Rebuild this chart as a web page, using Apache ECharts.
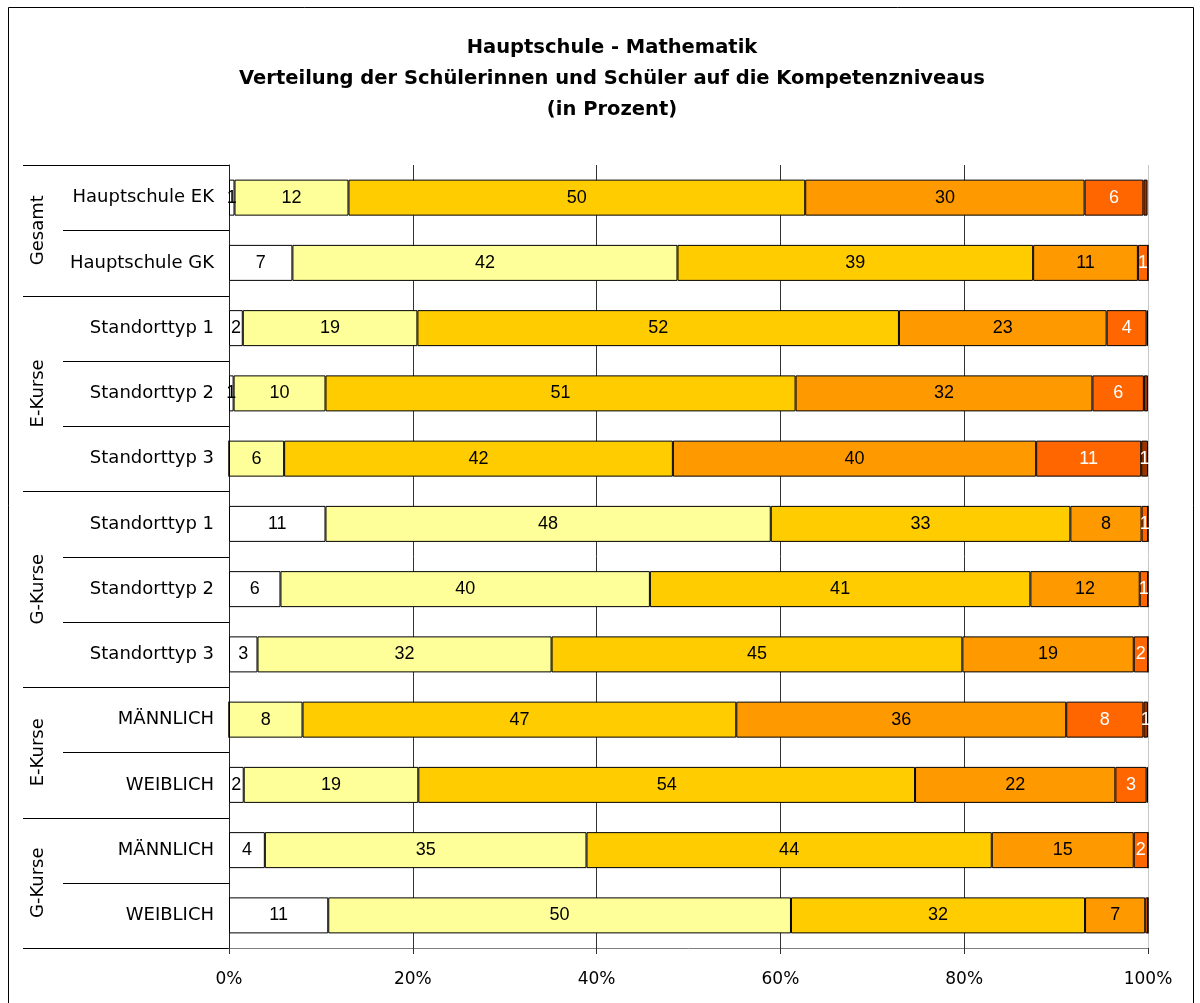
<!DOCTYPE html>
<html>
<head>
<meta charset="utf-8">
<script src="https://cdn.jsdelivr.net/npm/echarts@6/dist/echarts.min.js"></script>
<style>
  html, body { margin: 0; padding: 0; background: #fff; }
  #main { width: 1200px; height: 1003px; }
</style>
</head>
<body>
<div id="main"></div>
<script>
// Row labels (top to bottom) and the group each row belongs to
const categories = ['Hauptschule EK', 'Hauptschule GK', 'Standorttyp 1', 'Standorttyp 2', 'Standorttyp 3',
  'Standorttyp 1', 'Standorttyp 2', 'Standorttyp 3', 'MÄNNLICH', 'WEIBLICH', 'MÄNNLICH', 'WEIBLICH'];
const groupNames = ['Gesamt', 'E-Kurse', 'G-Kurse', 'E-Kurse', 'G-Kurse'];
const groupSizes = [2, 3, 3, 2, 2];

// Share of pupils per competence level (percent), one value per row
const levelA = [0.6, 6.9, 1.5, 0.5, 0, 10.5, 5.6, 3.1, 0, 1.6, 3.9, 10.8];
const levelB = [12.4, 41.9, 19.0, 10.0, 6.0, 48.45, 40.2, 32.0, 8.0, 19.0, 35.0, 50.35];
const levelC = [49.7, 38.7, 52.4, 51.15, 42.3, 32.6, 41.4, 44.7, 47.2, 54.05, 44.1, 32.0];
const levelD = [30.4, 11.4, 22.6, 32.3, 39.53, 7.75, 11.9, 18.65, 35.9, 21.8, 15.45, 6.55];
const levelE = [6.4, 1.1, 4.35, 5.6, 11.43, 0.7, 0.9, 1.55, 8.4, 3.4, 1.55, 0.3];
const levelF = [0.45, 0, 0.15, 0.45, 0.74, 0, 0, 0, 0.5, 0.15, 0, 0];

const axisTicks = [0, 20, 40, 60, 80, 100];

const levels = [
  { data: levelA, color: '#FFFFFF', text: '#000' },
  { data: levelB, color: '#FFFF99', text: '#000' },
  { data: levelC, color: '#FFCC00', text: '#000' },
  { data: levelD, color: '#FF9900', text: '#000' },
  { data: levelE, color: '#FF6600', text: '#fff' },
  { data: levelF, color: '#993300', text: '#fff' }
];

// unique keys so repeated row names stay separate categories
const keys = categories.map((c, i) => i + '|' + c);

const chart = echarts.init(document.getElementById('main'));

const option = {
  backgroundColor: '#fff',
  animation: false,
  title: {
    text: 'Hauptschule - Mathematik\nVerteilung der Schülerinnen und Schüler auf die Kompetenzniveaus\n(in Prozent)',
    left: 607,
    top: 27,
    textAlign: 'center',
    textStyle: {
      fontFamily: 'DejaVu Sans',
      fontWeight: 'bold',
      fontSize: 19.5,
      lineHeight: 31,
      color: '#000'
    }
  },
  grid: { left: 229, right: 52, top: 165, bottom: 55 },
  xAxis: {
    type: 'value',
    min: axisTicks[0],
    max: axisTicks[axisTicks.length - 1],
    interval: axisTicks[1] - axisTicks[0],
    axisLine: { show: true, lineStyle: { color: '#808080', width: 1 } },
    axisTick: { show: true, length: 6, lineStyle: { color: '#333' } },
    axisLabel: {
      formatter: '{value}%',
      fontFamily: 'DejaVu Sans',
      fontSize: 17,
      color: '#000',
      margin: 23
    },
    splitLine: {
      show: true,
      lineStyle: { color: ['#333', '#333', '#333', '#333', '#333', '#c8c8c8'], width: 1 }
    }
  },
  yAxis: {
    type: 'category',
    inverse: true,
    data: keys,
    axisLine: { show: true, lineStyle: { color: '#222', width: 1 } },
    axisTick: { show: false },
    axisLabel: {
      formatter: v => v.split('|')[1],
      fontFamily: 'DejaVu Sans',
      fontSize: 18,
      color: '#000',
      margin: 15
    }
  },
  series: levels.map((lv, i) => ({
    type: 'bar',
    name: 'Niveau ' + (i + 1),
    stack: 'total',
    barWidth: 36,
    data: lv.data,
    itemStyle: { color: lv.color, borderColor: '#000', borderWidth: 1 },
    label: {
      show: true,
      position: 'inside',
      fontFamily: 'Liberation Sans',
      fontSize: 18,
      color: lv.text,
      formatter: p => {
        const r = Math.round(p.value);
        return r >= 1 ? String(r) : '';
      }
    }
  }))
};

chart.setOption(option);

// Group brackets on the left: separator lines at band edges and rotated group names
const c0 = chart.convertToPixel({ yAxisIndex: 0 }, keys[0]);
const c1 = chart.convertToPixel({ yAxisIndex: 0 }, keys[1]);
const band = c1 - c0;
const bandTop = c0 - band / 2;
const axisX = chart.convertToPixel({ xAxisIndex: 0 }, 0);

const groupEdges = new Set([0]);
let acc = 0;
groupSizes.forEach(n => { acc += n; groupEdges.add(acc); });

const graphics = [];
for (let i = 0; i <= categories.length; i++) {
  const y = Math.round(bandTop + i * band) + 0.5;
  const x0 = groupEdges.has(i) ? 23 : 63;
  graphics.push({
    type: 'line',
    shape: { x1: x0, y1: y, x2: axisX, y2: y },
    style: { stroke: '#000', lineWidth: 1 }
  });
}

let start = 0;
groupNames.forEach((name, gi) => {
  const mid = bandTop + (start + groupSizes[gi] / 2) * band;
  graphics.push({
    type: 'text',
    x: 38,
    y: mid,
    rotation: Math.PI / 2,
    style: {
      text: name,
      fontFamily: 'DejaVu Sans',
      fontSize: 18,
      fill: '#000',
      align: 'center',
      verticalAlign: 'middle'
    }
  });
  start += groupSizes[gi];
});

// outer frame of the chart area
graphics.push({
  type: 'rect',
  shape: { x: 8.5, y: 7.5, width: 1185, height: 1010 },
  style: { fill: 'none', stroke: '#000', lineWidth: 1 },
  silent: true
});

chart.setOption({ graphic: graphics });
</script>
</body>
</html>
